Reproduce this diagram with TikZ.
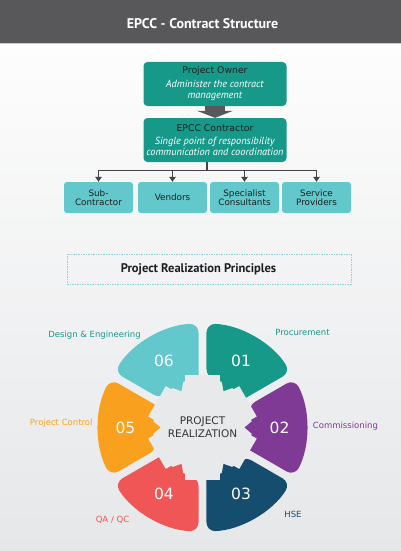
\documentclass[tikz,border=0pt]{standalone}
\usepackage{fontspec}
\setmainfont{PT Sans}
\newfontfamily\sqfont{DejaVu Sans}
\usetikzlibrary{calc,arrows.meta}
\definecolor{hdr}{HTML}{58585A}
\definecolor{hdrline}{HTML}{C9C9CA}
\definecolor{bgbot}{HTML}{E6E7E9}
\definecolor{tealc}{HTML}{17998A}
\definecolor{cyanc}{HTML}{62C8CC}
\definecolor{purplec}{HTML}{7F3A96}
\definecolor{navyc}{HTML}{154D6E}
\definecolor{redc}{HTML}{F05656}
\definecolor{orangec}{HTML}{F9A11F}
\definecolor{gearc}{HTML}{E8E9EB}
\definecolor{txtdark}{HTML}{1E1E1E}
\definecolor{linec}{HTML}{444444}
\definecolor{dashc}{HTML}{8FD3D6}
\tikzset{
  titlenode/.style={text=white, font=\fontsize{14}{16}\selectfont\bfseries},
  tealbox/.style={fill=tealc, rounded corners=4, minimum width=143, minimum height=44, align=center, text=white, inner sep=1, font=\fontsize{10.3}{11}\selectfont},
  subbox/.style={fill=cyanc, rounded corners=3, minimum width=69, minimum height=31, align=center, text=txtdark, inner sep=1, font=\sqfont\fontsize{8.8}{9}\selectfont},
  conn/.style={draw=linec, line width=1.2, -{Triangle[width=6.5pt,length=5pt]}},
  numtext/.style={text=white, font=\sqfont\fontsize{15.5}{16}\selectfont},
  lbl/.style={font=\sqfont\fontsize{8.5}{10}\selectfont, inner sep=0},
}
\newcommand\wheelseg[3]{%
  \fill[#1] ({#2+\gapi}:\rin) [rounded corners=9] -- ({#2+\gapo}:\rout)
    arc[start angle={#2+\gapo}, end angle={#3-\gapo}, radius=\rout]
    -- ({#3-\gapi}:\rin) [sharp corners]
    arc[start angle={#3-\gapi}, end angle={(#2+#3)/2+7}, radius=\rin]
    -- ({(#2+#3)/2}:\rtip) -- ({(#2+#3)/2-7}:\rin)
    arc[start angle={(#2+#3)/2-7}, end angle={#2+\gapi}, radius=\rin] -- cycle;}
\begin{document}
\begin{tikzpicture}[x=1pt,y=-1pt]
\useasboundingbox (0,0) rectangle (401,551);
\shade[top color=white, bottom color=bgbot] (0,0) rectangle (401,551);
\fill[hdr] (0,0) rectangle (401,43);
\fill[hdrline] (0,43) rectangle (401,44.5);
\node[titlenode] (title) at (202.5,23.5) {EPCC - Contract Structure};

\node[tealbox] (owner) at (215,84) {\textcolor{txtdark}{\sqfont\fontsize{9.3}{10.5}\selectfont Project Owner}\\[3pt]\textit{Administer the contract}\\\textit{management}};
\node[tealbox] (epcc) at (215,140) {\textcolor{txtdark}{\sqfont\fontsize{9.3}{10.5}\selectfont EPCC Contractor}\\[2pt]\textit{Single point of responsibility}\\\textit{communication and coordination}};
\draw[hdr, line width=20, -{Triangle[width=36pt,length=7pt]}] (owner.south) -- (epcc.north);

\node[subbox] (sub1) at (98.5,197.5) {Sub-\\Contractor};
\node[subbox] (sub2) at (172.5,197.5) {Vendors};
\node[subbox] (sub3) at (244.5,197.5) {Specialist\\Consultants};
\node[subbox] (sub4) at (316.5,197.5) {Service\\Providers};
\coordinate (hub) at ($(epcc.south)+(-8,8)$);
\draw[linec, line width=1.2] (epcc.south -| hub) -- (hub);
\foreach \s in {sub1,sub2,sub3,sub4} \draw[conn] (hub) -| (\s.north);

\node[draw=dashc, line width=0.9, dash pattern=on 1.5pt off 1pt, minimum width=284, minimum height=30] (pbox) at (209,269) {};
\node[font=\fontsize{12.5}{14}\selectfont\bfseries, text=txtdark] (principles) at (198.5,269) {Project Realization Principles};

\begin{scope}[shift={(202.5,427.5)}, y=1pt]
  \def\rin{49.5}\def\rout{104}\def\rtip{42}\def\gapi{4.63}\def\gapo{2.2}
  \fill[gearc] (0,0) circle[radius=49];
  \wheelseg{tealc}{30}{90}
  \wheelseg{purplec}{-30}{30}
  \wheelseg{navyc}{-90}{-30}
  \wheelseg{redc}{-150}{-90}
  \wheelseg{orangec}{150}{210}
  \wheelseg{cyanc}{90}{150}
  \foreach \g in {90,30,-30,-90,150,210} \fill[gearc, rotate=\g] (0,-17.5) rectangle (52.5,17.5);
  \node[align=center, text=txtdark!90, font=\sqfont\fontsize{10.5}{13}\selectfont] (center) at (0,0) {PROJECT\\REALIZATION};
  \node[numtext] (n1) at (60:77) {01};
  \node[numtext] (n2) at (0:77) {02};
  \node[numtext] (n3) at (-60:77) {03};
  \node[numtext] (n4) at (-120:77) {04};
  \node[numtext] (n5) at (180:77) {05};
  \node[numtext] (n6) at (120:77) {06};
\end{scope}

\node[lbl, text=tealc] (l6) at (94.5,335) {Design \& Engineering};
\node[lbl, text=tealc] (l1) at (302.5,332.5) {Procurement};
\node[lbl, text=purplec, anchor=west] (l2) at (312.7,426) {Commissioning};
\node[lbl, text=navyc] (l3) at (293,514) {HSE};
\node[lbl, text=redc] (l4) at (112.5,520) {QA / QC};
\node[lbl, text=orangec, anchor=east] (l5) at (92.7,423.5) {Project Control};
\end{tikzpicture}
\end{document}
